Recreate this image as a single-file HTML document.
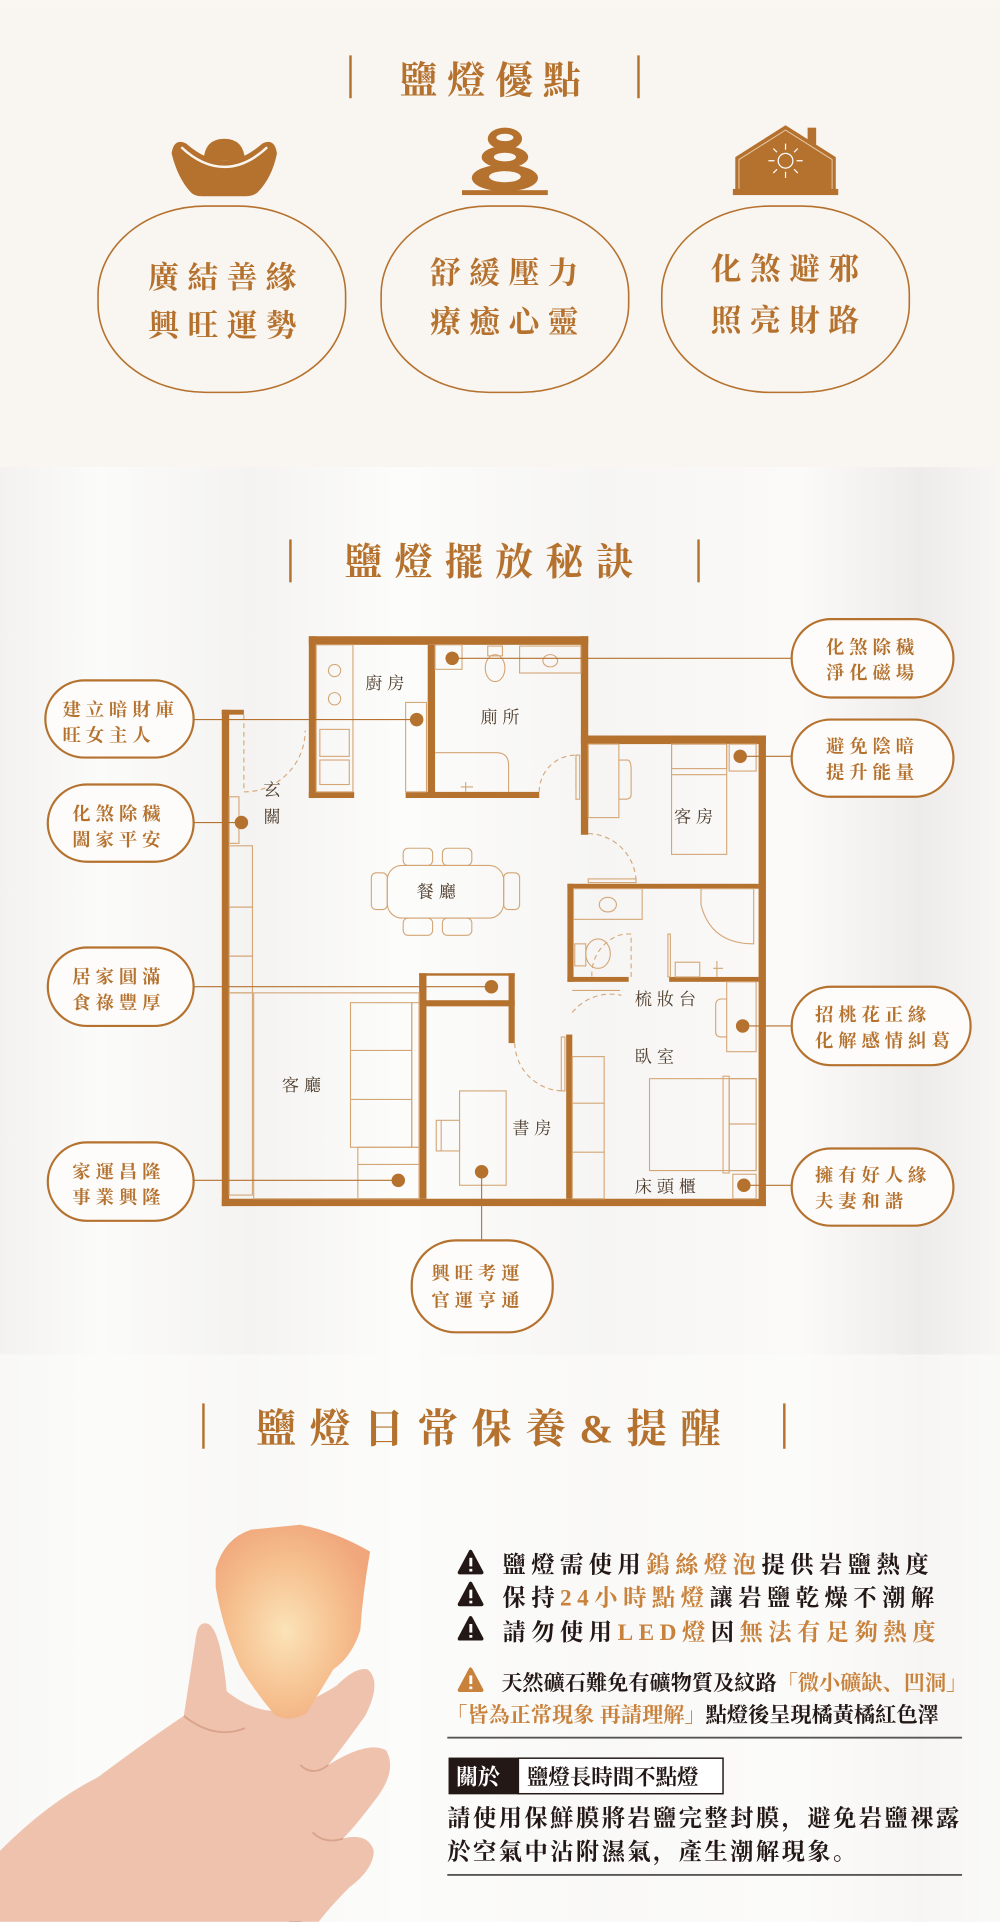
<!DOCTYPE html>
<html><head><meta charset="utf-8"><style>
html,body{margin:0;padding:0;background:#fff}
svg{display:block}
text{font-family:"Liberation Serif","Noto Serif CJK SC","Noto Sans CJK TC",serif}
</style></head><body>
<svg width="1000" height="1922" viewBox="0 0 816 1568" xmlns="http://www.w3.org/2000/svg">
<defs>
<linearGradient id="cur" x1="0" y1="0" x2="1" y2="0">
<stop offset="0" stop-color="#f3f2f0"/><stop offset="0.1" stop-color="#fbfbfa"/><stop offset="0.25" stop-color="#f4f3f1"/><stop offset="0.4" stop-color="#fcfcfb"/><stop offset="0.6" stop-color="#f6f5f3"/><stop offset="0.8" stop-color="#fbfaf9"/><stop offset="0.92" stop-color="#eeecea"/><stop offset="1" stop-color="#f7f6f4"/>
</linearGradient>
<radialGradient id="rock" cx="0.45" cy="0.55" r="0.6"><stop offset="0" stop-color="#fbe3b8"/><stop offset="0.6" stop-color="#f6bf8e"/><stop offset="1" stop-color="#f0a77c"/></radialGradient>
</defs>
<rect x="0" y="0" width="816" height="381" fill="#f9f5f0"/>
<rect x="0" y="381" width="816" height="1187" fill="url(#cur)"/>
<rect x="0" y="1105" width="816" height="463" fill="#fbfbfa" opacity="0.6"/>

<g fill="#b5722f">
<rect x="285" y="45" width="2" height="35"/><rect x="520" y="45" width="2" height="35"/>
<text x="404" y="76" font-size="31" text-anchor="middle" font-weight="bold" letter-spacing="8">鹽燈優點</text>
<path d="M140,125 Q142,112 152,117 Q168,131 183,131 Q198,131 214,117 Q224,112 226,125 Q222,145 210,157 Q206,160 200,160 L165,160 Q158,160 155,156 Q145,145 140,125 Z"/>
<path d="M166,131 Q167,113 183,113 Q199,113 200,131 Z"/>
<path d="M148,120 Q165,136 183,136 Q201,136 218,120" fill="none" stroke="#f9f5f0" stroke-width="2"/>
<rect x="377" y="155" width="70" height="4"/>
<ellipse cx="412" cy="113" rx="14" ry="9"/><ellipse cx="412" cy="112" rx="7" ry="3" fill="#f9f5f0"/>
<ellipse cx="412" cy="128" rx="19" ry="9"/><ellipse cx="412" cy="128" rx="9" ry="3.5" fill="#f9f5f0"/>
<ellipse cx="412" cy="145" rx="27" ry="11"/><ellipse cx="412" cy="144" rx="13" ry="4.5" fill="#f9f5f0"/>
<rect x="659" y="104" width="7" height="14"/>
<path d="M600,156 L600,128 L641,102 L682,128 L682,156 Z"/>
<path d="M603,155 L603,130 L641,106 L679,130 L679,155" fill="none" stroke="#e8c9a6" stroke-width="0.8"/>
<rect x="598" y="154" width="86" height="5"/>
<g stroke="#fff" stroke-width="1" fill="none"><circle cx="641" cy="131" r="6"/>
<path d="M641,117 V122 M641,140 V145 M627,131 H632 M650,131 H655 M631,121 L634,124 M648,138 L651,141 M651,121 L648,124 M634,138 L631,141"/></g>
</g>
<g fill="none" stroke="#b5722f" stroke-width="1.3">
<rect x="80" y="168" width="202" height="152" rx="88" ry="72"/>
<rect x="311" y="168" width="202" height="152" rx="88" ry="72"/>
<rect x="540" y="168" width="202" height="152" rx="88" ry="72"/>
</g>
<g fill="#b5722f" font-size="25" text-anchor="middle" font-weight="bold" letter-spacing="7">
<text x="185" y="235">廣結善緣</text><text x="185" y="274">興旺運勢</text>
<text x="415" y="231">舒緩壓力</text><text x="415" y="271">療癒心靈</text>
<text x="644" y="228">化煞避邪</text><text x="644" y="270">照亮財路</text>
</g>

<g fill="#b5722f">
<rect x="236" y="440" width="2" height="35"/><rect x="569" y="440" width="2" height="35"/>
<text x="404" y="469" font-size="31" text-anchor="middle" font-weight="bold" letter-spacing="10">鹽燈擺放秘訣</text>
</g>
<g fill="#b5722f">
<rect x="181" y="579" width="6" height="405"/>
<rect x="181" y="579" width="18" height="4"/>
<rect x="181" y="978" width="444" height="6"/>
<rect x="619" y="600" width="6" height="384"/>
<rect x="252" y="519" width="228" height="7"/>
<rect x="252" y="519" width="6" height="132"/>
<rect x="252" y="646" width="37" height="5"/>
<rect x="331" y="646" width="109" height="5"/>
<rect x="349" y="526" width="6" height="122"/>
<rect x="474" y="519" width="6" height="162"/>
<rect x="474" y="600" width="151" height="7"/>
<rect x="463" y="721" width="5" height="80"/>
<rect x="463" y="721" width="156" height="4"/>
<rect x="463" y="797" width="50" height="4"/>
<rect x="546" y="797" width="73" height="4"/>
<rect x="462" y="844" width="5" height="134"/>
<rect x="342" y="794" width="6" height="184"/>
<rect x="342" y="816" width="78" height="5"/>
<rect x="415" y="794" width="5" height="57"/>
<rect x="342" y="794" width="78" height="2"/>
</g>
<g fill="none" stroke="#d4a676" stroke-width="0.9">
<rect x="258" y="526" width="30" height="120"/>
<circle cx="273" cy="547" r="5"/><circle cx="273" cy="570" r="5"/>
<rect x="261" y="595" width="24" height="22"/><rect x="261" y="620" width="24" height="20"/>
<rect x="331" y="573" width="17" height="73"/>
<rect x="355" y="526" width="22" height="20"/>
<ellipse cx="404" cy="545" rx="8" ry="11"/><rect x="398" y="527" width="12" height="8"/>
<rect x="424" y="527" width="50" height="22"/><ellipse cx="449" cy="539" rx="6" ry="5"/>
<path d="M355,614 H405 Q415,614 415,624 V646"/><path d="M380,646 V638 M376,642 H386"/>
<path d="M440,646 A30,30 0 0 1 470,616 V646" stroke-dasharray="4,3"/><rect x="470" y="616" width="3" height="36"/>
<path d="M199,583 V646 A50,50 0 0 0 249,596" stroke-dasharray="4,3"/>
<rect x="187" y="690" width="19" height="50"/><rect x="187" y="740" width="19" height="40"/><rect x="187" y="780" width="19" height="30"/><rect x="187" y="810" width="19" height="165"/>
<rect x="187" y="650" width="8" height="38"/>
<rect x="480" y="607" width="25" height="60"/><path d="M505,620 H512 Q515,620 515,628 V648 Q515,652 510,652 H505"/>
<rect x="548" y="607" width="45" height="90"/><rect x="548" y="607" width="45" height="20"/><path d="M548,632 H593"/>
<rect x="595" y="607" width="22" height="22"/>
<path d="M480,680 A40,40 0 0 1 519,719" stroke-dasharray="4,3"/><rect x="480" y="717" width="39" height="3"/>
<rect x="468" y="725" width="56" height="25"/><ellipse cx="496" cy="738" rx="7" ry="6"/>
<path d="M572,725 H615 V770 Q580,770 572,738 Z"/>
<ellipse cx="488" cy="778" rx="10" ry="12"/><rect x="469" y="770" width="9" height="18"/>
<rect x="551" y="785" width="20" height="12"/><path d="M585,797 V784 M582,790 H590"/>
<path d="M515,797 V762 A34,34 0 0 0 505,763 A34,34 0 0 0 483,797" stroke-dasharray="4,3"/><rect x="545" y="762" width="2" height="35"/>
<rect x="593" y="801" width="24" height="57"/><path d="M593,815 H589 Q584,815 584,820 V842 Q584,846 589,846 H593"/>
<path d="M467,826 A40,40 0 0 1 507,812" stroke-dasharray="4,3"/><path d="M467,808 H506"/>
<path d="M420,851 A40,40 0 0 0 458,890" stroke-dasharray="4,3"/><rect x="458" y="846" width="3" height="44"/>
<rect x="467" y="862" width="26" height="116"/><path d="M467,900 H493 M467,940 H493"/>
<rect x="530" y="880" width="87" height="75"/><rect x="595" y="880" width="22" height="37"/><rect x="595" y="917" width="22" height="38"/><rect x="590" y="878" width="5" height="79"/>
<rect x="598" y="958" width="19" height="20"/>
<rect x="207" y="810" width="135" height="168"/>
<rect x="286" y="818" width="50" height="118"/><path d="M286,857 H336 M286,897 H336"/><rect x="336" y="818" width="6" height="118"/>
<rect x="292" y="936" width="50" height="42"/><path d="M292,950 H342"/>
<rect x="375" y="890" width="38" height="77"/><rect x="356" y="914" width="19" height="25"/><path d="M360,914 V939"/>
<rect x="316" y="706" width="95" height="43" rx="12"/>
<rect x="303" y="712" width="13" height="30" rx="4"/><rect x="411" y="712" width="13" height="30" rx="4"/>
<rect x="329" y="692" width="24" height="14" rx="4"/><rect x="361" y="692" width="24" height="14" rx="4"/>
<rect x="329" y="749" width="24" height="14" rx="4"/><rect x="361" y="749" width="24" height="14" rx="4"/>
</g>
<g stroke="#b5722f" stroke-width="0.9" fill="none">
<path d="M158,587 H340"/><path d="M158,671 H197"/><path d="M158,805 H401"/><path d="M158,963 H325"/>
<path d="M368,537 H646"/><path d="M604,617 H646"/><path d="M606,837 H646"/><path d="M608,967 H646"/>
<path d="M393,956 V1012"/>
</g>
<g fill="#b5722f">
<circle cx="369" cy="537" r="5.5"/><circle cx="340" cy="587" r="5.5"/><circle cx="197" cy="671" r="5.5"/>
<circle cx="604" cy="617" r="5.5"/><circle cx="401" cy="805" r="5.5"/><circle cx="606" cy="837" r="5.5"/>
<circle cx="325" cy="963" r="5.5"/><circle cx="393" cy="956" r="5.5"/><circle cx="607" cy="967" r="5.5"/>
</g>
<g fill="#fdfcfa" stroke="#b5722f" stroke-width="1.8">
<rect x="37" y="555" width="121" height="63" rx="32"/>
<rect x="39" y="640" width="119" height="63" rx="32"/>
<rect x="39" y="773" width="119" height="64" rx="32"/>
<rect x="39" y="932" width="119" height="64" rx="32"/>
<rect x="646" y="505" width="132" height="64" rx="32"/>
<rect x="646" y="587" width="132" height="63" rx="32"/>
<rect x="646" y="805" width="146" height="64" rx="32"/>
<rect x="646" y="937" width="132" height="63" rx="32"/>
<rect x="336" y="1012" width="115" height="75" rx="36"/>
</g>
<g fill="#b5722f" font-size="15" font-weight="bold" letter-spacing="4">
<text x="51" y="584">建立暗財庫</text><text x="51" y="605">旺女主人</text>
<text x="59" y="669">化煞除穢</text><text x="59" y="690">闔家平安</text>
<text x="59" y="802">居家圓滿</text><text x="59" y="823">食祿豐厚</text>
<text x="59" y="961">家運昌隆</text><text x="59" y="982">事業興隆</text>
<text x="674" y="533">化煞除穢</text><text x="674" y="554">淨化磁場</text>
<text x="674" y="614">避免陰暗</text><text x="674" y="635">提升能量</text>
<text x="665" y="833">招桃花正緣</text><text x="665" y="854">化解感情糾葛</text>
<text x="665" y="964">擁有好人緣</text><text x="665" y="985">夫妻和諧</text>
<text x="352" y="1044">興旺考運</text><text x="352" y="1066">官運亨通</text>
</g>
<g fill="#4f3e2e" font-size="14" letter-spacing="4">
<text x="298" y="562">廚房</text><text x="392" y="590">廁所</text>
<text x="215" y="649">玄</text><text x="215" y="671">關</text>
<text x="550" y="671">客房</text><text x="340" y="732">餐廳</text>
<text x="518" y="820">梳妝台</text><text x="518" y="867">臥室</text>
<text x="230" y="890">客廳</text><text x="418" y="925">書房</text>
<text x="518" y="973">床頭櫃</text>
</g>

<g fill="#b5722f">
<rect x="165" y="1145" width="2" height="37"/><rect x="639" y="1145" width="2" height="37"/>
<text x="404" y="1177" font-size="33" text-anchor="middle" font-weight="bold" letter-spacing="11">鹽燈日常保養&amp;提醒</text>
</g>
<path d="M232,1395 L236,1568 L246,1568 L243,1395 Z" fill="#1a1a1a"/>
<path d="M0,1510 Q40,1470 80,1450 Q120,1420 150,1400 L160,1335 Q162,1322 170,1325 Q180,1330 185,1380 Q210,1400 235,1395 Q260,1385 275,1375 Q290,1360 300,1362 Q312,1372 298,1400 Q280,1425 268,1440 Q300,1420 315,1428 Q325,1445 305,1470 Q290,1490 280,1500 Q300,1495 305,1510 Q305,1525 285,1540 Q270,1555 260,1568 L0,1568 Z" fill="#eec2ad"/>
<path d="M150,1400 Q175,1420 200,1410" fill="none" stroke="#d9a38c" stroke-width="1.5"/>
<path d="M268,1440 Q255,1450 245,1440 M280,1500 Q265,1505 255,1495" fill="none" stroke="#d9a38c" stroke-width="1.5"/>
<path d="M176,1280 Q183,1255 205,1248 L245,1244 Q275,1250 302,1266 Q296,1300 294,1330 Q287,1352 272,1362 Q260,1382 250,1398 Q235,1406 224,1399 Q208,1380 196,1360 Q182,1330 176,1295 Z" fill="url(#rock)"/>
<g font-weight="bold">
<g fill="#231815" stroke="#231815" stroke-width="3" stroke-linejoin="round">
<path d="M384,1266 L393,1283 H375 Z"/><path d="M384,1292 L393,1309 H375 Z"/><path d="M384,1320 L393,1337 H375 Z"/>
</g>
<path d="M384,1362 L393,1379 H375 Z" fill="#c8823c" stroke="#c8823c" stroke-width="3" stroke-linejoin="round"/>
<g fill="#fff"><rect x="383" y="1271" width="2.4" height="7"/><rect x="383" y="1280" width="2.4" height="2.2"/><rect x="383" y="1297" width="2.4" height="7"/><rect x="383" y="1306" width="2.4" height="2.2"/><rect x="383" y="1325" width="2.4" height="7"/><rect x="383" y="1334" width="2.4" height="2.2"/><rect x="383" y="1367" width="2.4" height="7"/><rect x="383" y="1376" width="2.4" height="2.2"/></g>
<g font-size="19" letter-spacing="4.5" fill="#231815">
<text x="410" y="1283">鹽燈需使用<tspan fill="#c8823c">鎢絲燈泡</tspan>提供岩鹽熱度</text>
<text x="410" y="1310">保持<tspan fill="#c8823c">24小時點燈</tspan>讓岩鹽乾燥不潮解</text>
<text x="410" y="1338">請勿使用<tspan fill="#c8823c">LED燈</tspan>因<tspan fill="#c8823c">無法有足夠熱度</tspan></text>
</g>
<g font-size="17.3" fill="#231815">
<text x="409" y="1379">天然礦石難免有礦物質及紋路<tspan fill="#c8823c">「微小礦缺、凹洞」</tspan></text>
<text x="364" y="1405"><tspan fill="#c8823c">「皆為正常現象 再請理解」</tspan>點燈後呈現橘黃橘紅色澤</text>
</g>
<rect x="365" y="1417" width="420" height="1.5" fill="#555"/>
<rect x="366" y="1434" width="57" height="30" fill="#231815"/>
<rect x="423" y="1434.5" width="167" height="29" fill="#fff" stroke="#231815" stroke-width="1.2"/>
<text x="372" y="1456" font-size="18" fill="#fff">關於</text>
<text x="430" y="1456" font-size="17.5" fill="#231815">鹽燈長時間不點燈</text>
<g font-size="19" letter-spacing="2" fill="#231815">
<text x="365" y="1490">請使用保鮮膜將岩鹽完整封膜，避免岩鹽裸露</text>
<text x="365" y="1517">於空氣中沾附濕氣，產生潮解現象。</text>
</g>
<rect x="365" y="1529" width="420" height="1.5" fill="#555"/>
</g>
</svg>
</body></html>
